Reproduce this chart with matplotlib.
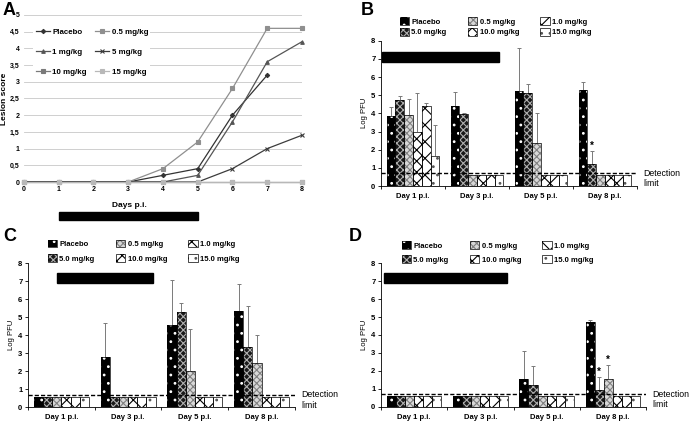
import numpy as np
import matplotlib
matplotlib.use("Agg")
import matplotlib.pyplot as plt
from matplotlib.patches import Rectangle, Patch
from matplotlib.legend_handler import HandlerTuple
import matplotlib.transforms as mtransforms

plt.rcParams['font.family'] = ['Liberation Sans', 'DejaVu Sans']
plt.rcParams['hatch.linewidth'] = 0.8

# ---- panel A: lesion score ----
days = [0, 1, 2, 3, 4, 5, 6, 7, 8]
lesion_labels = ['Placebo', '0.5 mg/kg', '1 mg/kg', '5 mg/kg', '10 mg/kg', '15 mg/kg']
placebo_a = [0, 0, 0, 0, 0.2, 0.4, 2.0, 3.2, None]
dose05_a = [0, 0, 0, 0, 0.4, 1.2, 2.8, 4.6, 4.6]
dose1_a = [0, 0, 0, 0, 0, 0.2, 1.8, 3.6, 4.2]
dose5_a = [0, 0, 0, 0, 0, 0, 0.4, 1.0, 1.4]
dose10_a = [0, 0, 0, 0, 0, 0, 0, 0, 0]
dose15_a = [0, 0, 0, 0, 0, 0, 0, 0, 0]
treatment_days = [1, 5]

# ---- panels B-D: virus titres ----
groups = ['Day 1 p.i.', 'Day 3 p.i.', 'Day 5 p.i.', 'Day 8 p.i.']
series = ['Placebo', '5.0 mg/kg', '0.5 mg/kg', '10.0 mg/kg', '1.0 mg/kg', '15.0 mg/kg']
detection_limit = 0.7

b_means = {
    'Placebo':    [3.85, 4.40, 5.23, 5.27],
    '5.0 mg/kg':  [4.72, 3.94, 5.10, 1.23],
    '0.5 mg/kg':  [3.89, 0.60, 2.35, 0.60],
    '10.0 mg/kg': [2.99, 0.60, 0.60, 0.60],
    '1.0 mg/kg':  [4.39, 0.60, 0.60, 0.60],
    '15.0 mg/kg': [1.65, 0.60, 0.60, 0.60],
}
b_sd = {
    'Placebo':    [0.48, 0.77, 2.35, 0.45],
    '5.0 mg/kg':  [0.23, 0.10, 0.53, 0.70],
    '0.5 mg/kg':  [0.92, 0, 1.69, 0],
    '10.0 mg/kg': [2.11, 0, 0, 0],
    '1.0 mg/kg':  [0.20, 0, 0, 0],
    '15.0 mg/kg': [1.69, 0, 0, 0],
}
b_stars = [(3, '5.0 mg/kg')]
b_treat = [-0.48, 1.34, 6.85, 7.40]

c_means = {
    'Placebo':    [0.60, 2.78, 4.58, 5.35],
    '5.0 mg/kg':  [0.60, 0.60, 5.30, 3.35],
    '0.5 mg/kg':  [0.60, 0.60, 2.00, 2.47],
    '10.0 mg/kg': [0.60, 0.60, 0.60, 0.60],
    '1.0 mg/kg':  [0.60, 0.60, 0.60, 0.60],
    '15.0 mg/kg': [0.60, 0.60, 0.60, 0.60],
}
c_sd = {
    'Placebo':    [0, 1.89, 2.52, 1.50],
    '5.0 mg/kg':  [0, 0, 0.50, 2.27],
    '0.5 mg/kg':  [0, 0, 2.35, 1.56],
    '10.0 mg/kg': [0, 0, 0, 0],
    '1.0 mg/kg':  [0, 0, 0, 0],
    '15.0 mg/kg': [0, 0, 0, 0],
}
c_stars = []
c_treat = [-0.07, 1.37, 6.92, 7.48]

d_means = {
    'Placebo':    [0.60, 0.60, 1.52, 4.74],
    '5.0 mg/kg':  [0.60, 0.60, 1.19, 0.95],
    '0.5 mg/kg':  [0.60, 0.60, 0.60, 1.52],
    '10.0 mg/kg': [0.60, 0.60, 0.60, 0.60],
    '1.0 mg/kg':  [0.60, 0.60, 0.60, 0.60],
    '15.0 mg/kg': [0.60, 0.60, 0.60, 0.60],
}
d_sd = {
    'Placebo':    [0, 0, 1.58, 0.09],
    '5.0 mg/kg':  [0, 0, 1.08, 0.69],
    '0.5 mg/kg':  [0, 0, 0, 0.82],
    '10.0 mg/kg': [0, 0, 0, 0],
    '1.0 mg/kg':  [0, 0, 0, 0],
    '15.0 mg/kg': [0, 0, 0, 0],
}
d_stars = [(3, '5.0 mg/kg'), (3, '0.5 mg/kg')]
d_treat = [-0.45, 1.40, 6.90, 7.45]

# face colour, hatch colour, hatch
styles = {
    'Placebo':    ('black', 'white', '..'),
    '5.0 mg/kg':  ('#1a1a1a', '#b0b0b0', 'xxxxx'),
    '0.5 mg/kg':  ('#d8d8d8', '#808080', 'xxxxx'),
    '10.0 mg/kg': ('white', 'black', 'xxx'),
    '1.0 mg/kg':  ('white', 'black', 'xx'),
    '15.0 mg/kg': ('white', '#555555', '..'),
}

fig = plt.figure(figsize=(6.91, 4.22), dpi=100)

# ---------------- A ----------------
ax = fig.add_axes([0.0347, 0.5687, 0.4023, 0.3958])
line_styles = [('#333333', 'D', 2.2), ('#8f8f8f', 's', 2.6), ('#555555', '^', 2.6),
               ('#3c3c3c', 'x', 2.6), ('#7a7a7a', 's', 2.4), ('#b8b8b8', 's', 2.6)]
handles = []
for vals, lab, (col, mk, ms) in zip([placebo_a, dose05_a, dose1_a, dose5_a, dose10_a, dose15_a],
                                     lesion_labels, line_styles):
    x = [d for d, v in zip(days, vals) if v is not None]
    y = [v for v in vals if v is not None]
    h, = ax.plot(x, y, color=col, marker=mk, ms=ms, lw=0.9, mew=0.8, label=lab, clip_on=False)
    handles.append(h)
ax.set_xlim(0, 8)
ax.set_ylim(0, 5)
ax.set_yticks(np.arange(0, 5.01, 0.5))
ax.set_yticklabels([('%g' % v).replace('.', ',') for v in np.arange(0, 5.01, 0.5)])
ax.set_xticks(days)
ax.tick_params(length=0, labelsize=5, pad=3)
for t in ax.get_xticklabels() + ax.get_yticklabels():
    t.set_fontweight('bold')
ax.grid(axis='y', color='#c8c8c8', lw=0.6)
ax.set_axisbelow(True)
for s in ax.spines.values():
    s.set_visible(False)
ax.set_ylabel('Lesion score', fontsize=6, fontweight='bold')
ax.yaxis.set_label_coords(-0.058, 0.5)
ax.set_xlabel('Days p.i.', fontsize=6, fontweight='bold')
ax.xaxis.set_label_coords(0.38, -0.12)
order = [0, 2, 4, 1, 3, 5]
ax.legend([handles[i] for i in order], [lesion_labels[i] for i in order], ncol=2,
          loc='upper left', bbox_to_anchor=(0.02, 0.96),
          prop={'weight': 'bold', 'size': 5.7}, frameon=True, framealpha=1,
          edgecolor='none', facecolor='white', labelspacing=1.6, handlelength=1.8,
          handletextpad=0.3, columnspacing=1.0, borderpad=0.3)
trans = mtransforms.blended_transform_factory(ax.transData, ax.transAxes)
ax.add_patch(Rectangle((treatment_days[0], -0.228), treatment_days[1] - treatment_days[0], 0.05,
                       transform=trans, color='black', clip_on=False))


def bar_panel(rect, means, sds, stars, treat, leg_anchor, labelspacing):
    ax = fig.add_axes(rect)
    x = np.arange(len(groups))
    w = 0.137
    handles = []
    for i, name in enumerate(series):
        face, hcol, hatch = styles[name]
        pos = x + (i - 2.5) * w
        ax.bar(pos, means[name], w, color=face, edgecolor=hcol, hatch=hatch, lw=0, zorder=2)
        ax.bar(pos, means[name], w, fill=False, edgecolor='black', lw=0.5, zorder=3)
        sd = np.array(sds[name])
        m = sd > 0
        if m.any():
            ax.errorbar(pos[m], np.array(means[name])[m],
                        yerr=[np.zeros(m.sum()), sd[m]], fmt='none', ecolor='#7a7a7a',
                        elinewidth=0.7, capsize=1.2, capthick=0.7, zorder=1)
        handles.append((Patch(facecolor=face, edgecolor=hcol, hatch=hatch, lw=0),
                        Patch(fill=False, edgecolor='black', lw=0.5)))
    for gi, name in stars:
        i = series.index(name)
        ax.text(gi + (i - 2.5) * w, means[name][gi] + sds[name][gi] + 0.3, '*',
                ha='center', va='center', fontsize=7, fontweight='bold')
    ax.axhline(detection_limit, color='black', ls=(0, (3, 1.5)), lw=1.0, zorder=4)
    ax.text(1.025, 0.4, 'Detection\nlimit', transform=mtransforms.blended_transform_factory(
        ax.transAxes, ax.transData), fontsize=6.3, va='center', ha='left', linespacing=1.2)
    ax.add_patch(Rectangle((treat[0], treat[2]), treat[1] - treat[0], treat[3] - treat[2],
                           color='black', zorder=5))
    ax.set_xlim(-0.5, 3.5)
    ax.set_ylim(0, 8)
    ax.set_yticks(range(9))
    ax.set_xticks(x)
    ax.set_xticklabels(groups)
    ax.set_xticks(np.arange(-0.5, 3.6, 1), minor=True)
    ax.tick_params(axis='x', which='major', length=0, labelsize=5.5, pad=5)
    ax.tick_params(axis='x', which='minor', length=2.5, width=0.6)
    ax.tick_params(axis='y', length=2, width=0.6, labelsize=5.5, pad=2)
    for t in ax.get_xticklabels() + ax.get_yticklabels():
        t.set_fontweight('bold')
    for s in ['top', 'right']:
        ax.spines[s].set_visible(False)
    for s in ['left', 'bottom']:
        ax.spines[s].set_linewidth(0.6)
    ax.set_ylabel('Log PFU', fontsize=5.5, labelpad=2)
    ax.legend(handles, series, ncol=3, loc='upper left', bbox_to_anchor=leg_anchor,
              handler_map={tuple: HandlerTuple(ndivide=1, pad=0)},
              prop={'weight': 'bold', 'size': 5.5}, frameon=False,
              handlelength=1.2, handleheight=1.2, handletextpad=0.3,
              columnspacing=2.8, labelspacing=labelspacing, borderpad=0, borderaxespad=0)
    return ax


bar_panel([0.5514, 0.5592, 0.3705, 0.3443], b_means, b_sd, b_stars, b_treat, (0.074, 1.16), 0.25)
bar_panel([0.0405, 0.0348, 0.3864, 0.3412], c_means, c_sd, c_stars, c_treat, (0.075, 1.165), 0.8)
bar_panel([0.5514, 0.0363, 0.3835, 0.3398], d_means, d_sd, d_stars, d_treat, (0.079, 1.155), 0.75)

for lab, xx, yy in [('A', 0.003, 0.995), ('B', 0.522, 0.995), ('C', 0.005, 0.46), ('D', 0.505, 0.46)]:
    fig.text(xx, yy, lab, fontsize=13, fontweight='bold', va='top', ha='left')

fig.savefig('out.png', dpi=100)
